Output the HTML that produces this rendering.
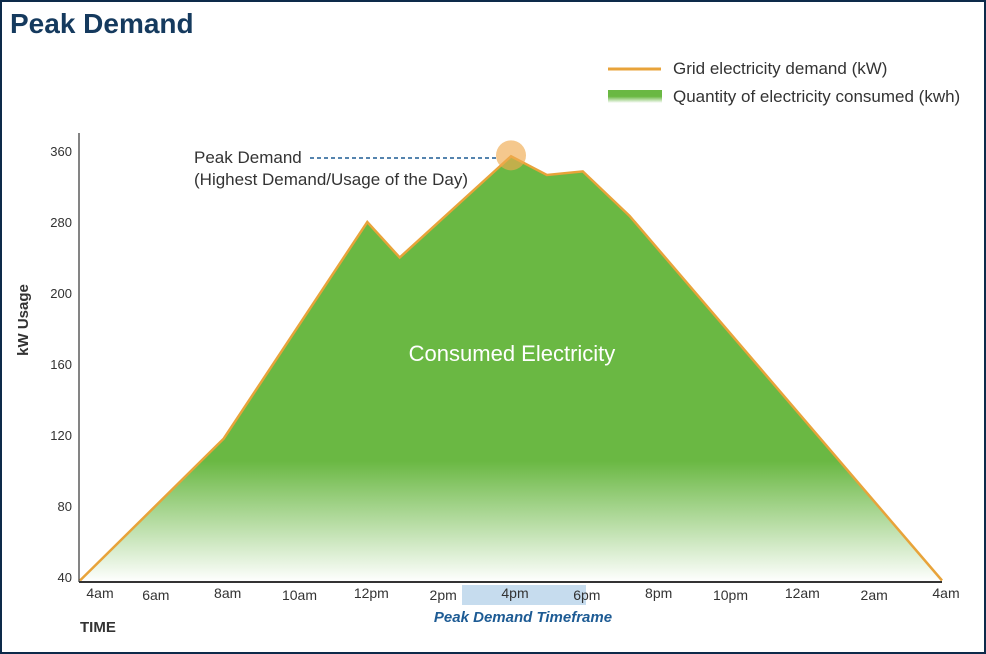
<!DOCTYPE html>
<html><head><meta charset="utf-8"><style>
html,body{margin:0;padding:0;background:#fff}
body{width:986px;height:654px;overflow:hidden}
svg{display:block;font-family:"Liberation Sans Narrow","Liberation Sans",sans-serif}
</style></head><body>
<svg id="chart" width="986" height="654" viewBox="0 0 986 654">
<defs>
<linearGradient id="g" gradientUnits="userSpaceOnUse" x1="0" y1="150" x2="0" y2="582">
<stop offset="0" stop-color="#6ab843"/><stop offset="0.72" stop-color="#6ab843"/><stop offset="1" stop-color="#ffffff"/>
</linearGradient>
<linearGradient id="lg" x1="0" y1="0" x2="0" y2="1">
<stop offset="0" stop-color="#6ab843"/><stop offset="0.5" stop-color="#6ab843"/><stop offset="1" stop-color="#ffffff"/>
</linearGradient>
</defs>
<rect x="1" y="1" width="984" height="652" fill="#fff" stroke="#0d2a4a" stroke-width="2"/>
<text x="10" y="33" font-size="28" font-weight="bold" fill="#153a5e">Peak Demand</text>
<g>
<line x1="608" y1="69" x2="661" y2="69" stroke="#e8a33a" stroke-width="3"/>
<text x="673" y="74" font-size="17" fill="#333">Grid electricity demand (kW)</text>
<rect x="608" y="90" width="54" height="13" fill="url(#lg)"/>
<text x="673" y="102" font-size="17" fill="#333">Quantity of electricity consumed (kwh)</text>
</g>
<rect x="462" y="585" width="124" height="20" fill="#c6dcee"/>
<g id="plot"></g>
<line x1="79" y1="133" x2="79" y2="582" stroke="#333" stroke-width="1.2"/>
<line x1="79" y1="582" x2="942" y2="582" stroke="#333" stroke-width="2"/>
<text transform="translate(28,320) rotate(-90)" text-anchor="middle" font-size="15" font-weight="bold" fill="#333">kW Usage</text>
<text x="80" y="632" font-size="15" font-weight="bold" fill="#333">TIME</text>
<text x="523" y="622" text-anchor="middle" font-size="15" font-style="italic" font-weight="bold" fill="#1d5b94">Peak Demand Timeframe</text>
<text x="194" y="163" font-size="17" fill="#333">Peak Demand</text>
<text x="194" y="185" font-size="17" fill="#333">(Highest Demand/Usage of the Day)</text>
<line x1="310" y1="158" x2="497" y2="158" stroke="#1d5b94" stroke-width="1.5" stroke-dasharray="4,3"/>
<text id="arealabel" x="512" y="361" text-anchor="middle" font-size="22" fill="#fff">Consumed Electricity</text>
</svg>
<script>
const yTicks=[40,80,120,160,200,280,360];
const xLabels=["4am","6am","8am","10am","12pm","2pm","4pm","6pm","8pm","10pm","12am","2am","4am"];
const xLabelHours=[0,2,4,6,8,10,12,14,16,18,20,22,24];
const hours=[0,4,8,8.9,12,13,14,15.3,24];
const demand=[38,118,280,240,354,333,337,287,38];
const peakHour=12, peakValue=354;

const svgNS="http://www.w3.org/2000/svg";
const plot=document.getElementById('plot');
const svg=document.getElementById('chart');
function x(h){return 80+h*(942-80)/24;}
function y(v){
  const step=71,base=577;
  if(v<=yTicks[0]) return base+(yTicks[0]-v)/(yTicks[1]-yTicks[0])*step;
  for(let i=0;i<yTicks.length-1;i++){
    if(v<=yTicks[i+1]) return base-step*(i+(v-yTicks[i])/(yTicks[i+1]-yTicks[i]));
  }
  const n=yTicks.length-1;
  return base-step*n-(v-yTicks[n])/(yTicks[n]-yTicks[n-1])*step;
}
const pts=hours.map((h,i)=>x(h).toFixed(1)+","+y(demand[i]).toFixed(1));
const area=document.createElementNS(svgNS,'polygon');
area.setAttribute('points',pts.join(' ')+" "+x(24)+",582 "+x(0)+",582");
area.setAttribute('fill','url(#g)');


plot.appendChild(area);
const line=document.createElementNS(svgNS,'polyline');
line.setAttribute('points',pts.join(' '));
line.setAttribute('fill','none');line.setAttribute('stroke','#e8a33a');line.setAttribute('stroke-width','2.5');


plot.appendChild(line);
const c=document.createElementNS(svgNS,'circle');
c.setAttribute('cx',x(peakHour));c.setAttribute('cy',y(peakValue)-1);c.setAttribute('r','15');
c.setAttribute('fill','rgba(240,170,80,0.65)');


plot.appendChild(c);
yTicks.forEach((t,i)=>{
  const tx=document.createElementNS(svgNS,'text');
  tx.setAttribute('x','72');tx.setAttribute('y',y(t)+5);tx.setAttribute('text-anchor','end');
  tx.setAttribute('font-size','13');tx.setAttribute('fill','#333');
  tx.textContent=t;
  
  
  svg.appendChild(tx);
});
xLabels.forEach((l,i)=>{
  const tx=document.createElementNS(svgNS,'text');
  let px=x(xLabelHours[i])+(i===0?20:4);
  tx.setAttribute('x',px);tx.setAttribute('y',i%2?600:598);tx.setAttribute('text-anchor','middle');
  tx.setAttribute('font-size','14');tx.setAttribute('fill','#333');
  tx.textContent=l;
  
  
  svg.appendChild(tx);
});
</script>
</body></html>
